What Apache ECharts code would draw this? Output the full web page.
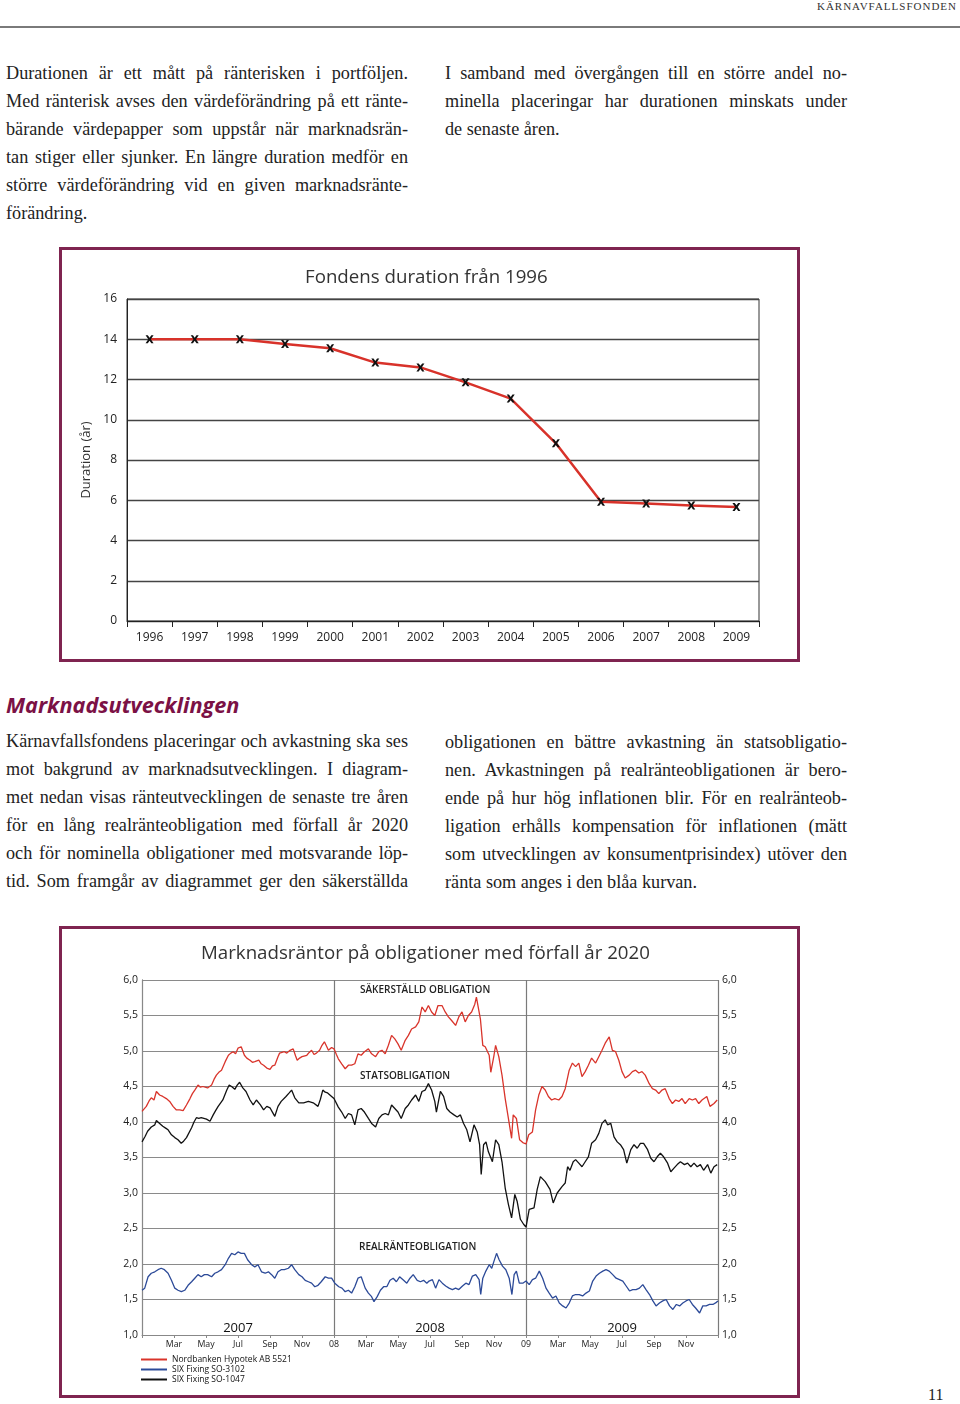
<!DOCTYPE html>
<html><head><meta charset="utf-8">
<script src="https://cdn.jsdelivr.net/npm/echarts@6/dist/echarts.min.js"></script>
<style>
html,body{margin:0;padding:0;background:#fff;}
body{width:960px;height:1404px;position:relative;overflow:hidden;}
.abs{position:absolute;}
.txt{font-family:"Liberation Serif",serif;font-size:18.2px;line-height:28px;color:#222;}
.j{text-align:justify;text-align-last:justify;white-space:nowrap;}
.box{position:absolute;border:3px solid #7f2450;box-sizing:border-box;}
#chart{position:absolute;left:0;top:0;width:960px;height:1404px;}
</style></head><body>
<div class="abs" style="right:3px;top:0px;font-family:'Liberation Serif',serif;font-size:11px;letter-spacing:1px;color:#333;">KÄRNAVFALLSFONDEN</div>
<div class="abs" style="left:0;top:26px;width:960px;height:2px;background:#7a7a7a;"></div>

<div class="abs txt" style="left:6px;top:59px;width:402px;">
<div class="j">Durationen är ett mått på ränterisken i portföljen.</div>
<div class="j">Med ränterisk avses den värdeförändring på ett ränte-</div>
<div class="j">bärande värdepapper som uppstår när marknadsrän-</div>
<div class="j">tan stiger eller sjunker. En längre duration medför en</div>
<div class="j">större värdeförändring vid en given marknadsränte-</div>
<div>förändring.</div>
</div>
<div class="abs txt" style="left:445px;top:59px;width:402px;">
<div class="j">I samband med övergången till en större andel no-</div>
<div class="j">minella placeringar har durationen minskats under</div>
<div>de senaste åren.</div>
</div>

<div class="box" style="left:59px;top:247px;width:741px;height:415px;"></div>

<div class="abs" style="left:6px;top:690px;font-family:'Open Sans',sans-serif;font-weight:700;font-style:italic;font-size:21.7px;color:#7b1145;">Marknadsutvecklingen</div>

<div class="abs txt" style="left:6px;top:727px;width:402px;">
<div class="j">Kärnavfallsfondens placeringar och avkastning ska ses</div>
<div class="j">mot bakgrund av marknadsutvecklingen. I diagram-</div>
<div class="j">met nedan visas ränteutvecklingen de senaste tre  åren</div>
<div class="j">för en lång realränteobligation med förfall år 2020</div>
<div class="j">och för nominella obligationer med motsvarande löp-</div>
<div class="j">tid. Som framgår av diagrammet ger den säkerställda</div>
</div>
<div class="abs txt" style="left:445px;top:728px;width:402px;">
<div class="j">obligationen en bättre avkastning än statsobligatio-</div>
<div class="j">nen. Avkastningen på realränteobligationen är bero-</div>
<div class="j">ende på hur hög inflationen blir. För en realränteob-</div>
<div class="j">ligation  erhålls kompensation för inflationen (mätt</div>
<div class="j">som utvecklingen av konsumentprisindex) utöver den</div>
<div>ränta som anges i den blåa kurvan.</div>
</div>

<div class="box" style="left:59px;top:926px;width:741px;height:472px;"></div>

<div class="abs" style="left:928px;top:1386px;font-family:'Liberation Serif',serif;font-size:16px;color:#222;">11</div>

<div id="chart"></div>
<script>
// ---------- Chart 1 data ----------
const durationYears = ['1996','1997','1998','1999','2000','2001','2002','2003','2004','2005','2006','2007','2008','2009'];
const durationValues = [14.0, 14.0, 14.0, 13.76, 13.55, 12.84, 12.6, 11.86, 11.05, 8.83, 5.92, 5.84, 5.74, 5.67];

// ---------- Chart 2 data (x = months since Jan 2007, y = yield %) ----------
const monthTickLabels = ['', 'Mar','May','Jul','Sep','Nov','08','Mar','May','Jul','Sep','Nov','09','Mar','May','Jul','Sep','Nov',''];
const yearLabels = ['', '2007', '', '2008', '', '2009', ''];

const sakerstalld = [
[0.0,4.15],[0.27,4.22],[0.45,4.3],[0.58,4.34],[0.75,4.31],[0.9,4.43],[1.1,4.38],[1.3,4.36],[1.52,4.33],[1.73,4.29],[1.94,4.22],[2.15,4.17],[2.36,4.17],[2.57,4.16],[2.78,4.24],[3.0,4.33],[3.15,4.4],[3.3,4.45],[3.5,4.52],[3.65,4.49],[3.8,4.5],[4.1,4.48],[4.35,4.52],[4.5,4.6],[4.65,4.66],[4.8,4.7],[4.97,4.73],[5.2,4.85],[5.4,4.94],[5.55,4.97],[5.7,4.99],[5.85,4.96],[6.0,5.04],[6.2,5.06],[6.4,4.94],[6.55,4.9],[6.75,4.87],[6.9,4.84],[7.05,4.85],[7.3,4.87],[7.45,4.82],[7.6,4.8],[7.8,4.76],[8.0,4.74],[8.15,4.79],[8.3,4.8],[8.5,4.92],[8.6,4.97],[8.9,4.99],[9.05,4.97],[9.25,5.01],[9.45,5.03],[9.6,4.93],[9.7,4.87],[9.85,4.9],[10.0,4.92],[10.3,4.94],[10.45,4.98],[10.6,5.01],[10.75,4.95],[10.9,4.97],[11.1,5.01],[11.25,5.08],[11.4,5.13],[11.55,5.06],[11.65,5.01],[11.85,5.05],[12.0,5.03],
[12.15,4.95],[12.27,4.89],[12.48,4.82],[12.7,4.75],[12.9,4.8],[13.1,4.8],[13.3,4.82],[13.5,4.96],[13.7,4.94],[13.9,4.99],[14.15,5.03],[14.35,4.96],[14.6,4.92],[14.8,4.99],[15.0,5.01],[15.2,4.96],[15.4,5.08],[15.6,5.22],[15.8,5.17],[16.0,5.1],[16.2,5.01],[16.45,5.15],[16.65,5.22],[16.85,5.31],[17.1,5.34],[17.3,5.41],[17.5,5.62],[17.7,5.55],[17.9,5.64],[18.1,5.55],[18.3,5.5],[18.5,5.64],[18.75,5.64],[18.95,5.55],[19.15,5.48],[19.35,5.43],[19.6,5.36],[19.8,5.48],[20.0,5.55],[20.2,5.41],[20.4,5.5],[20.6,5.55],[20.8,5.66],[20.9,5.76],[21.15,5.45],[21.3,5.08],[21.45,5.06],[21.7,4.94],[21.8,4.7],[22.0,4.94],[22.1,5.08],[22.3,4.92],[22.5,4.66],[22.7,4.33],[22.9,4.05],[23.1,3.77],[23.2,4.1],[23.4,4.05],[23.6,3.75],[23.8,3.71],[24.0,3.69],
[24.17,3.82],[24.4,3.86],[24.6,4.17],[24.8,4.38],[25.0,4.5],[25.2,4.45],[25.4,4.36],[25.6,4.31],[25.8,4.33],[26.05,4.31],[26.25,4.36],[26.45,4.47],[26.7,4.73],[26.9,4.83],[27.1,4.78],[27.3,4.83],[27.5,4.64],[27.7,4.71],[27.9,4.8],[28.1,4.9],[28.35,4.83],[28.55,4.92],[28.75,5.01],[28.95,5.11],[29.2,5.2],[29.4,5.01],[29.6,4.99],[29.8,4.87],[30.0,4.71],[30.2,4.62],[30.45,4.66],[30.65,4.71],[30.85,4.73],[31.05,4.69],[31.25,4.71],[31.45,4.66],[31.7,4.54],[31.9,4.47],[32.1,4.45],[32.3,4.4],[32.5,4.45],[32.7,4.47],[32.95,4.33],[33.15,4.26],[33.35,4.31],[33.55,4.29],[33.75,4.33],[33.95,4.26],[34.2,4.33],[34.4,4.31],[34.6,4.33],[34.8,4.26],[35.0,4.31],[35.3,4.36],[35.5,4.22],[35.75,4.26],[35.95,4.31]
];

const realranta = [
[0.0,1.63],[0.17,1.66],[0.38,1.82],[0.58,1.87],[0.8,1.89],[1.0,1.92],[1.2,1.94],[1.4,1.92],[1.63,1.87],[1.84,1.77],[2.05,1.66],[2.25,1.63],[2.46,1.61],[2.67,1.63],[2.88,1.7],[3.1,1.75],[3.3,1.8],[3.5,1.85],[3.7,1.82],[3.9,1.85],[4.1,1.85],[4.35,1.82],[4.55,1.87],[4.75,1.89],[4.97,1.92],[5.2,1.99],[5.4,2.08],[5.6,2.15],[5.8,2.13],[6.0,2.17],[6.2,2.15],[6.4,2.15],[6.6,2.06],[6.85,1.99],[7.05,1.96],[7.25,1.99],[7.47,1.89],[7.7,1.87],[7.9,1.89],[8.1,1.85],[8.3,1.8],[8.5,1.89],[8.7,1.92],[8.9,1.92],[9.15,1.94],[9.35,1.99],[9.55,1.92],[9.8,1.85],[10.0,1.82],[10.2,1.77],[10.4,1.75],[10.6,1.73],[10.8,1.68],[11.0,1.7],[11.2,1.75],[11.45,1.82],[11.65,1.8],[11.85,1.8],[12.05,1.73],[12.3,1.68],[12.5,1.66],[12.7,1.61],[12.9,1.63],[13.1,1.59],[13.3,1.68],[13.5,1.8],[13.7,1.82],[13.95,1.66],[14.15,1.59],[14.35,1.54],[14.5,1.47],[14.7,1.54],[14.9,1.63],[15.1,1.68],[15.3,1.68],[15.5,1.77],[15.7,1.8],[15.9,1.75],[16.1,1.82],[16.35,1.77],[16.55,1.73],[16.75,1.8],[16.95,1.85],[17.2,1.77],[17.4,1.75],[17.6,1.77],[17.8,1.73],[17.94,1.76],[18.15,1.78],[18.35,1.66],[18.56,1.78],[18.77,1.73],[18.98,1.69],[19.19,1.66],[19.4,1.64],[19.6,1.66],[19.8,1.64],[20.03,1.69],[20.24,1.73],[20.44,1.71],[20.65,1.83],[20.86,1.85],[21.07,1.78],[21.17,1.57],[21.3,1.8],[21.49,1.9],[21.7,1.99],[21.86,1.94],[22.0,2.04],[22.16,2.15],[22.32,2.06],[22.53,1.97],[22.74,1.92],[22.95,1.8],[23.12,1.57],[23.26,1.85],[23.4,1.9],[23.58,1.73],[23.8,1.73],[24.0,1.76],[24.2,1.71],[24.4,1.78],[24.6,1.8],[24.83,1.9],[25.04,1.8],[25.25,1.66],[25.45,1.59],[25.66,1.52],[25.87,1.55],[26.08,1.45],[26.29,1.41],[26.5,1.38],[26.7,1.45],[26.9,1.55],[27.1,1.57],[27.33,1.57],[27.54,1.55],[27.75,1.59],[27.96,1.62],[28.17,1.76],[28.38,1.83],[28.59,1.87],[28.8,1.9],[29.0,1.92],[29.2,1.9],[29.42,1.85],[29.63,1.8],[29.84,1.78],[30.05,1.76],[30.26,1.69],[30.47,1.62],[30.67,1.64],[30.88,1.64],[31.09,1.66],[31.3,1.71],[31.5,1.64],[31.72,1.57],[31.93,1.48],[32.13,1.41],[32.34,1.45],[32.55,1.48],[32.76,1.5],[32.97,1.41],[33.18,1.36],[33.4,1.43],[33.6,1.41],[33.8,1.45],[34.0,1.48],[34.2,1.5],[34.4,1.43],[34.6,1.38],[34.85,1.31],[35.05,1.41],[35.26,1.41],[35.47,1.43],[35.68,1.43],[35.9,1.46],[36.0,1.48]
];

const statsobligation = [
[0.0,3.72],[0.2,3.8],[0.35,3.87],[0.58,3.93],[0.8,3.96],[0.9,4.02],[1.1,3.98],[1.3,3.94],[1.5,3.91],[1.63,3.89],[1.84,3.82],[2.05,3.78],[2.25,3.75],[2.45,3.7],[2.6,3.73],[2.78,3.78],[3.1,3.92],[3.25,4.0],[3.4,4.06],[3.55,4.05],[3.7,4.06],[4.03,4.04],[4.25,4.01],[4.45,4.1],[4.6,4.16],[4.76,4.22],[5.05,4.31],[5.3,4.45],[5.45,4.52],[5.6,4.5],[5.8,4.46],[5.95,4.52],[6.1,4.56],[6.3,4.48],[6.5,4.43],[6.75,4.31],[6.95,4.24],[7.15,4.31],[7.4,4.24],[7.6,4.17],[7.8,4.22],[8.0,4.2],[8.15,4.14],[8.3,4.08],[8.5,4.22],[8.7,4.29],[9.0,4.36],[9.2,4.41],[9.35,4.45],[9.55,4.34],[9.8,4.27],[10.1,4.27],[10.4,4.29],[10.7,4.27],[11.0,4.22],[11.15,4.32],[11.3,4.45],[11.45,4.42],[11.6,4.41],[11.85,4.36],[12.0,4.33],
[12.27,4.21],[12.48,4.14],[12.7,4.05],[12.9,4.12],[13.1,4.1],[13.3,3.96],[13.5,4.17],[13.7,4.19],[13.9,4.14],[14.15,4.05],[14.35,3.98],[14.6,3.93],[14.8,4.05],[15.0,4.1],[15.2,4.12],[15.4,4.1],[15.6,4.24],[15.8,4.19],[16.0,4.14],[16.2,4.05],[16.45,4.19],[16.65,4.24],[16.85,4.31],[17.1,4.38],[17.3,4.29],[17.5,4.43],[17.7,4.45],[17.9,4.54],[18.1,4.45],[18.3,4.29],[18.4,4.14],[18.65,4.43],[18.85,4.36],[19.05,4.19],[19.25,4.14],[19.5,4.1],[19.7,4.07],[19.9,4.1],[20.1,3.98],[20.3,3.89],[20.5,3.72],[20.75,3.96],[20.95,3.86],[21.1,3.68],[21.2,3.26],[21.35,3.68],[21.5,3.72],[21.65,3.58],[21.9,3.44],[22.1,3.75],[22.3,3.68],[22.5,3.44],[22.7,3.07],[22.9,2.84],[23.1,2.65],[23.3,2.98],[23.45,2.88],[23.65,2.63],[23.85,2.56],[24.0,2.52],
[24.2,2.77],[24.5,2.79],[24.7,3.05],[24.9,3.23],[25.2,3.16],[25.5,3.05],[25.7,2.86],[25.95,3.0],[26.25,3.09],[26.45,3.14],[26.6,3.37],[26.75,3.32],[26.95,3.44],[27.1,3.47],[27.3,3.42],[27.5,3.37],[27.7,3.44],[27.9,3.51],[28.1,3.7],[28.35,3.75],[28.55,3.84],[28.75,3.98],[28.95,4.03],[29.1,3.96],[29.3,3.98],[29.5,3.79],[29.7,3.72],[29.9,3.68],[30.1,3.61],[30.3,3.42],[30.55,3.61],[30.75,3.68],[30.95,3.63],[31.15,3.7],[31.35,3.7],[31.6,3.61],[31.8,3.49],[32.0,3.44],[32.2,3.51],[32.4,3.56],[32.6,3.51],[32.85,3.42],[33.05,3.3],[33.25,3.35],[33.45,3.4],[33.65,3.44],[33.9,3.4],[34.1,3.42],[34.3,3.37],[34.5,3.42],[34.7,3.37],[34.9,3.4],[35.1,3.32],[35.35,3.4],[35.55,3.28],[35.75,3.37],[35.95,3.4]
];

const FONT = 'Open Sans';
const xMark = 'path://M0,0 L2.8,0 L5,3 L7.2,0 L10,0 L6.6,5 L10,10 L7.2,10 L5,7 L2.8,10 L0,10 L3.4,5 Z';
const comma = v => v.toFixed(1).replace('.', ',');

const chart = echarts.init(document.getElementById('chart'), null, {renderer: 'canvas'});
chart.setOption({
  backgroundColor: 'transparent',
  animation: false,
  textStyle: {fontFamily: FONT},
  title: [
    {text: 'Fondens duration från 1996', left: 305, top: 268, padding: 0, textStyle: {fontFamily: FONT, fontSize: 18.7, fontWeight: 'normal', color: '#333'}},
    {text: 'Marknadsräntor på obligationer med förfall år 2020', left: 201, top: 944, padding: 0, textStyle: {fontFamily: FONT, fontSize: 18.7, fontWeight: 'normal', color: '#333'}}
  ],
  grid: [
    {left: 127, top: 299, width: 632, height: 322, show: true, borderColor: '#333', borderWidth: 1, containLabel: false},
    {left: 142, top: 980, width: 576, height: 355, containLabel: false}
  ],
  legend: {
    data: ['Nordbanken Hypotek AB 5521', 'SIX Fixing SO-3102', 'SIX Fixing SO-1047'],
    orient: 'vertical', left: 141, top: 1355, padding: 0, itemGap: 1,
    itemWidth: 26, itemHeight: 2, icon: 'rect',
    textStyle: {fontFamily: FONT, fontSize: 8.5, color: '#111', padding: [0, 0, 0, 0]}
  },
  xAxis: [
    {type: 'category', gridIndex: 0, data: durationYears, boundaryGap: true, position: 'bottom',
     axisLine: {lineStyle: {color: '#222'}}, axisTick: {show: true, length: 6, lineStyle: {color: '#222'}},
     axisLabel: {color: '#222', fontSize: 12, margin: 11, fontFamily: FONT}},
    {type: 'value', gridIndex: 1, min: 0, max: 36, interval: 2, position: 'bottom',
     axisLine: {lineStyle: {color: '#888'}}, axisTick: {show: true, length: 3, lineStyle: {color: '#888'}},
     splitLine: {show: false},
     axisLabel: {fontSize: 8.8, color: '#222', margin: 5, fontFamily: FONT, formatter: v => monthTickLabels[Math.round(v / 2)] || ''}},
    {type: 'value', gridIndex: 1, min: 0, max: 36, interval: 12, position: 'bottom',
     axisLine: {show: false}, axisTick: {show: false}, axisLabel: {show: false},
     splitLine: {show: true, lineStyle: {color: '#7a7a7a', width: 1.2}}},
    {type: 'value', gridIndex: 1, min: 0, max: 36, interval: 6, position: 'bottom',
     axisLine: {show: false}, axisTick: {show: false}, splitLine: {show: false},
     axisLabel: {inside: true, margin: 0, fontSize: 13, color: '#111', fontFamily: FONT, formatter: v => yearLabels[Math.round(v / 6)] || ''}}
  ],
  yAxis: [
    {type: 'value', gridIndex: 0, min: 0, max: 16, interval: 2,
     axisLine: {show: true, lineStyle: {color: '#222'}}, axisTick: {show: false},
     splitLine: {lineStyle: {color: '#444', width: 1.3}},
     axisLabel: {color: '#222', fontSize: 12, margin: 10, fontFamily: FONT},
     name: 'Duration (år)', nameLocation: 'middle', nameGap: 21, nameRotate: 90,
     nameTextStyle: {fontSize: 13, color: '#333', fontFamily: FONT}},
    {type: 'value', gridIndex: 1, min: 1, max: 6, interval: 0.5, position: 'left',
     axisLine: {show: true, lineStyle: {color: '#888'}}, axisTick: {show: false},
     splitLine: {show: true, lineStyle: {color: '#8a8a8a', width: 1.2}},
     axisLabel: {fontSize: 10.5, color: '#222', margin: 4, fontFamily: FONT, formatter: comma}},
    {type: 'value', gridIndex: 1, min: 1, max: 6, interval: 0.5, position: 'right',
     axisLine: {show: true, lineStyle: {color: '#888'}}, axisTick: {show: false},
     splitLine: {show: false},
     axisLabel: {fontSize: 10.5, color: '#222', margin: 4, fontFamily: FONT, formatter: comma}}
  ],
  graphic: [
    {type: 'text', left: 360, top: 985, style: {text: 'SÄKERSTÄLLD OBLIGATION', fontFamily: FONT, fontSize: 10, fontWeight: 600, fill: '#222'}},
    {type: 'text', left: 360, top: 1071, style: {text: 'STATSOBLIGATION', fontFamily: FONT, fontSize: 10, fontWeight: 600, fill: '#222'}},
    {type: 'text', left: 359, top: 1242, style: {text: 'REALRÄNTEOBLIGATION', fontFamily: FONT, fontSize: 10, fontWeight: 600, fill: '#222'}}
  ],
  series: [
    {type: 'line', xAxisIndex: 0, yAxisIndex: 0, data: durationValues,
     lineStyle: {color: '#d8322a', width: 2.5}, symbol: xMark, symbolSize: 8,
     itemStyle: {color: '#111'}, z: 5},
    {name: 'Nordbanken Hypotek AB 5521', type: 'line', xAxisIndex: 1, yAxisIndex: 1, data: sakerstalld,
     showSymbol: false, color: '#d9342b', lineStyle: {color: '#d9342b', width: 1.3}},
    {name: 'SIX Fixing SO-3102', type: 'line', xAxisIndex: 1, yAxisIndex: 1, data: realranta,
     showSymbol: false, color: '#2c4a98', lineStyle: {color: '#2c4a98', width: 1.3}},
    {name: 'SIX Fixing SO-1047', type: 'line', xAxisIndex: 1, yAxisIndex: 1, data: statsobligation,
     showSymbol: false, color: '#111', lineStyle: {color: '#111', width: 1.3}}
  ]
});
</script>
</body></html>
